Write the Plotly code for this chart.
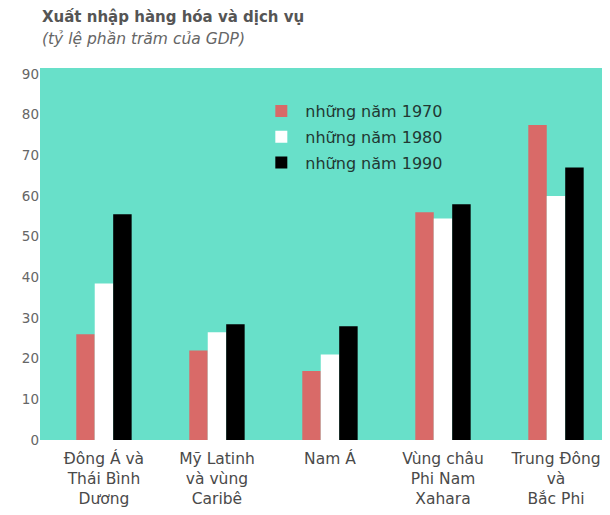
import plotly.graph_objects as go

regions = ["Đông Á và<br>Thái Bình<br>Dương", "Mỹ Latinh<br>và vùng<br>Caribê", "Nam Á",
           "Vùng châu<br>Phi Nam<br>Xahara", "Trung Đông<br>và<br>Bắc Phi"]
series_names = ["những năm 1970", "những năm 1980", "những năm 1990"]
vals_1970 = [26, 22, 17, 56, 77.5]
vals_1980 = [38.5, 26.5, 21, 54.5, 60]
vals_1990 = [55.5, 28.5, 28, 58, 67]
y_ticks = [0, 10, 20, 30, 40, 50, 60, 70, 80, 90]

colors = ["#D96A68", "#FFFFFF", "#000000"]
font_fam = "DejaVu Sans, Verdana, sans-serif"

fig = go.Figure()
for name, vals, col in zip(series_names, [vals_1970, vals_1980, vals_1990], colors):
    fig.add_trace(go.Bar(
        x=regions, y=vals, name=name, legendgroup=name,
        marker=dict(color=col, line=dict(width=0)),
    ))

# title + subtitle as annotations (page has an 8px body margin)
fig.add_annotation(
    text="<b>Xuất nhập hàng hóa và dịch vụ</b>", xref="paper", yref="paper",
    x=0.0, y=1.136, xanchor="left", yanchor="middle", showarrow=False,
    font=dict(size=15, color="#555555", family=font_fam),
)
fig.add_annotation(
    text="<i>(tỷ lệ phần trăm của GDP)</i>", xref="paper", yref="paper",
    x=0.0, y=1.079, xanchor="left", yanchor="middle", showarrow=False,
    font=dict(size=15.5, color="#666666", family=font_fam),
)

fig.update_layout(
    width=602, height=507,
    barmode="group", bargap=0.51, bargroupgap=0,
    plot_bgcolor="#68E0C9", paper_bgcolor="white",
    margin=dict(l=32, r=7, t=60, b=75),
    font=dict(family=font_fam, color="#555555"),
    legend=dict(
        x=0.386, y=0.93, xanchor="left", yanchor="top",
        bgcolor="rgba(0,0,0,0)", font=dict(size=16, color="#223833", family=font_fam),
        traceorder="grouped", tracegroupgap=2, itemwidth=38,
    ),
    showlegend=True,
)
fig.update_yaxes(
    range=[0, 91.5], tickvals=y_ticks, showgrid=False, zeroline=False,
    ticks="", tickfont=dict(size=13.5, color="#666666"), automargin=False,
)
fig.update_xaxes(
    range=[-0.566, 4.416], showgrid=False, ticks="", ticklabelstandoff=7,
    tickfont=dict(size=15.5, color="#4a4a4a"), automargin=False,
)

fig.write_html("out.html")
